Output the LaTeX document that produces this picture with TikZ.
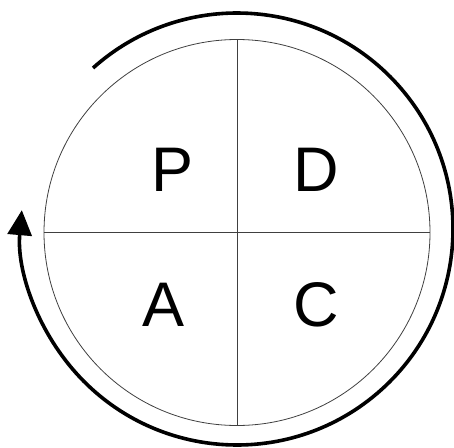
\documentclass[tikz,border=0pt]{standalone}
\usepackage{fontspec}
\setmainfont{Liberation Sans}
\usepackage{tikz}
\usetikzlibrary{arrows.meta,calc}

\begin{document}
\begin{tikzpicture}[x=1pt, y=-1pt,
    phase/.style={font=\fontsize{63}{70}\selectfont, inner sep=0pt},
    quarter/.style={draw=black!75, line width=0.8pt},
    cyclearrow/.style={line width=3.6pt, -{Triangle[length=25pt, width=24pt]}}]
  \useasboundingbox (0,0) rectangle (454,447);
  \node[draw=black!75, line width=0.8pt, circle, minimum size=386pt, inner sep=0pt] (wheel) at (237,232.5) {};
  \coordinate (hub) at (237,229);
  \draw[quarter] (wheel.north) -- (wheel.south);
  \draw[quarter] (wheel.west) -- (wheel.east);
  \node[phase] (plan) at (173,170) {P};
  \node[phase] (do) at (316,170) {D};
  \node[phase] (act) at (164,305) {A};
  \node[phase] (check) at (316,305) {C};
  \draw[cyclearrow] ($(hub)+(131.8:216 and -216)$) arc[start angle=-131.8, end angle=185, radius=216];
\end{tikzpicture}
\end{document}
